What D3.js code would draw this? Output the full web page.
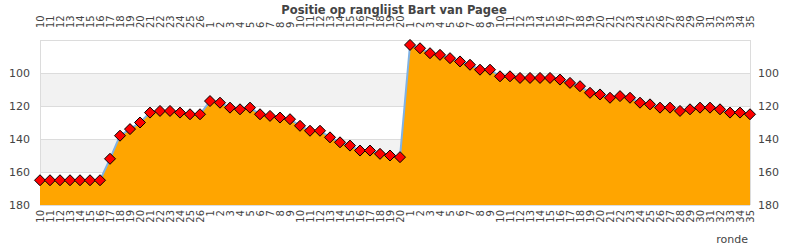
<!DOCTYPE html>
<html>
  <head>
    <style>
      body,
      html {
        margin: 0;
        padding: 0;
        font-family: "DejaVu Sans", sans-serif;
        overflow: hidden;
        background: #fff;
      }
    </style>
    <script src="https://d3js.org/d3.v7.min.js"></script>
    <title>Positie op ranglijst</title>
  </head>

  <body>
    <svg id="chart" width="790" height="250"></svg>

    <script>
      // round labels, three seasons after each other
      var rounds1 = [10, 11, 12, 13, 14, 15, 16, 17, 18, 19, 20, 21, 22, 23, 24, 25, 26];
      var rounds2 = [1, 2, 3, 4, 5, 6, 7, 8, 9, 10, 11, 12, 13, 14, 15, 16, 17, 18, 19, 20];
      var rounds3 = [1, 2, 3, 4, 5, 6, 7, 8, 9, 10, 11, 12, 13, 14, 15, 16, 17, 18,
        19, 20, 21, 22, 23, 24, 25, 26, 27, 28, 29, 30, 31, 32, 33, 34, 35];

      // position in the ranking per round
      var pos1 = [165, 165, 165, 165, 165, 165, 165, 152, 138, 134, 130, 124, 123, 123, 124, 125, 125];
      var pos2 = [117, 118, 121, 122, 121, 125, 126, 127, 128, 132, 135, 135, 139, 142, 144, 147, 147, 149, 150, 151];
      var pos3 = [83, 85, 88, 89, 91, 93, 95, 98, 98, 102, 102, 103, 103, 103, 103, 104, 106, 108,
        112, 113, 115, 114, 115, 118, 119, 121, 121, 123, 122, 121, 121, 122, 124, 124, 125];

      var yTicks = [100, 120, 140, 160, 180];
      var yDomain = [80, 180];

      var labels = rounds1.concat(rounds2, rounds3).map(String);
      var values = pos1.concat(pos2, pos3);
      var data = values.map(function (v, i) {
        return { i: i, label: labels[i], pos: v };
      });

      var svg = d3.select("#chart");
      // note: "top" is taken by window.top, so use other names
      var plotL = 40, plotR = 750, plotT = 40, plotB = 205;

      var x = d3.scaleLinear().domain([0, data.length - 1]).range([plotL, plotR]);
      var y = d3.scaleLinear().domain(yDomain).range([plotT, plotB]);

      // alternating bands
      var bands = d3.range(yDomain[0], yDomain[1], 20);
      svg.selectAll(".band")
        .data(bands)
        .enter()
        .append("rect")
        .attr("x", plotL)
        .attr("width", plotR - plotL)
        .attr("y", function (d) { return y(d); })
        .attr("height", function (d) { return y(d + 20) - y(d); })
        .attr("fill", function (d, i) { return i % 2 == 1 ? "#f2f2f2" : "#fff"; });

      // grid lines
      svg.selectAll(".grid")
        .data(bands.concat([yDomain[1]]))
        .enter()
        .append("line")
        .attr("x1", plotL)
        .attr("x2", plotR)
        .attr("y1", function (d) { return Math.round(y(d)) + 0.5; })
        .attr("y2", function (d) { return Math.round(y(d)) + 0.5; })
        .attr("stroke", "#dcdcdc");

      svg.append("line")
        .attr("x1", plotL + 0.5).attr("x2", plotL + 0.5)
        .attr("y1", plotT).attr("y2", plotB)
        .attr("stroke", "#dcdcdc");
      svg.append("line")
        .attr("x1", plotR + 0.5).attr("x2", plotR + 0.5)
        .attr("y1", plotT).attr("y2", plotB)
        .attr("stroke", "#dcdcdc");

      // area + line
      var area = d3.area()
        .x(function (d) { return x(d.i); })
        .y0(y(yDomain[1]))
        .y1(function (d) { return y(d.pos); });
      var line = d3.line()
        .x(function (d) { return x(d.i); })
        .y(function (d) { return y(d.pos); });

      svg.append("path").datum(data).attr("d", area).attr("fill", "#ffa500");
      svg.append("path").datum(data).attr("d", line)
        .attr("fill", "none")
        .attr("stroke", "#7fb2e5")
        .attr("stroke-width", 2);

      // diamond markers
      svg.selectAll(".dot")
        .data(data)
        .enter()
        .append("path")
        .attr("d", "M0,-5.5L5.5,0L0,5.5L-5.5,0Z")
        .attr("transform", function (d) { return "translate(" + x(d.i) + "," + y(d.pos) + ")"; })
        .attr("fill", "#ff0000")
        .attr("stroke", "#000")
        .attr("stroke-width", 1)
        .attr("stroke-linejoin", "round");

      // y axis labels both sides
      svg.selectAll(".ylab")
        .data(yTicks)
        .enter()
        .append("text")
        .attr("x", 30)
        .attr("y", function (d) { return y(d) + 4; })
        .attr("text-anchor", "end")
        .attr("font-size", 11)
        .attr("fill", "#444")
        .text(function (d) { return d; });
      svg.selectAll(".ylab2")
        .data(yTicks)
        .enter()
        .append("text")
        .attr("x", 758)
        .attr("y", function (d) { return y(d) + 4; })
        .attr("font-size", 11)
        .attr("fill", "#444")
        .text(function (d) { return d; });

      // x labels, rotated, top and bottom
      svg.selectAll(".xtop")
        .data(data)
        .enter()
        .append("text")
        .attr("transform", function (d) { return "translate(" + (x(d.i) + 3.5) + ",28) rotate(-90)"; })
        .attr("font-size", 10)
        .attr("fill", "#444")
        .text(function (d) { return d.label; });
      svg.selectAll(".xbot")
        .data(data)
        .enter()
        .append("text")
        .attr("transform", function (d) { return "translate(" + (x(d.i) + 3.5) + ",210) rotate(-90)"; })
        .attr("text-anchor", "end")
        .attr("font-size", 10)
        .attr("fill", "#444")
        .text(function (d) { return d.label; });

      svg.append("text")
        .attr("x", 748)
        .attr("y", 243)
        .attr("text-anchor", "end")
        .attr("font-size", 11)
        .attr("fill", "#444")
        .text("ronde");

      svg.append("text")
        .attr("x", 394)
        .attr("y", 14)
        .attr("text-anchor", "middle")
        .attr("font-size", 11.5)
        .attr("font-weight", "bold")
        .attr("fill", "#444")
        .text("Positie op ranglijst Bart van Pagee");
    </script>
  </body>
</html>
